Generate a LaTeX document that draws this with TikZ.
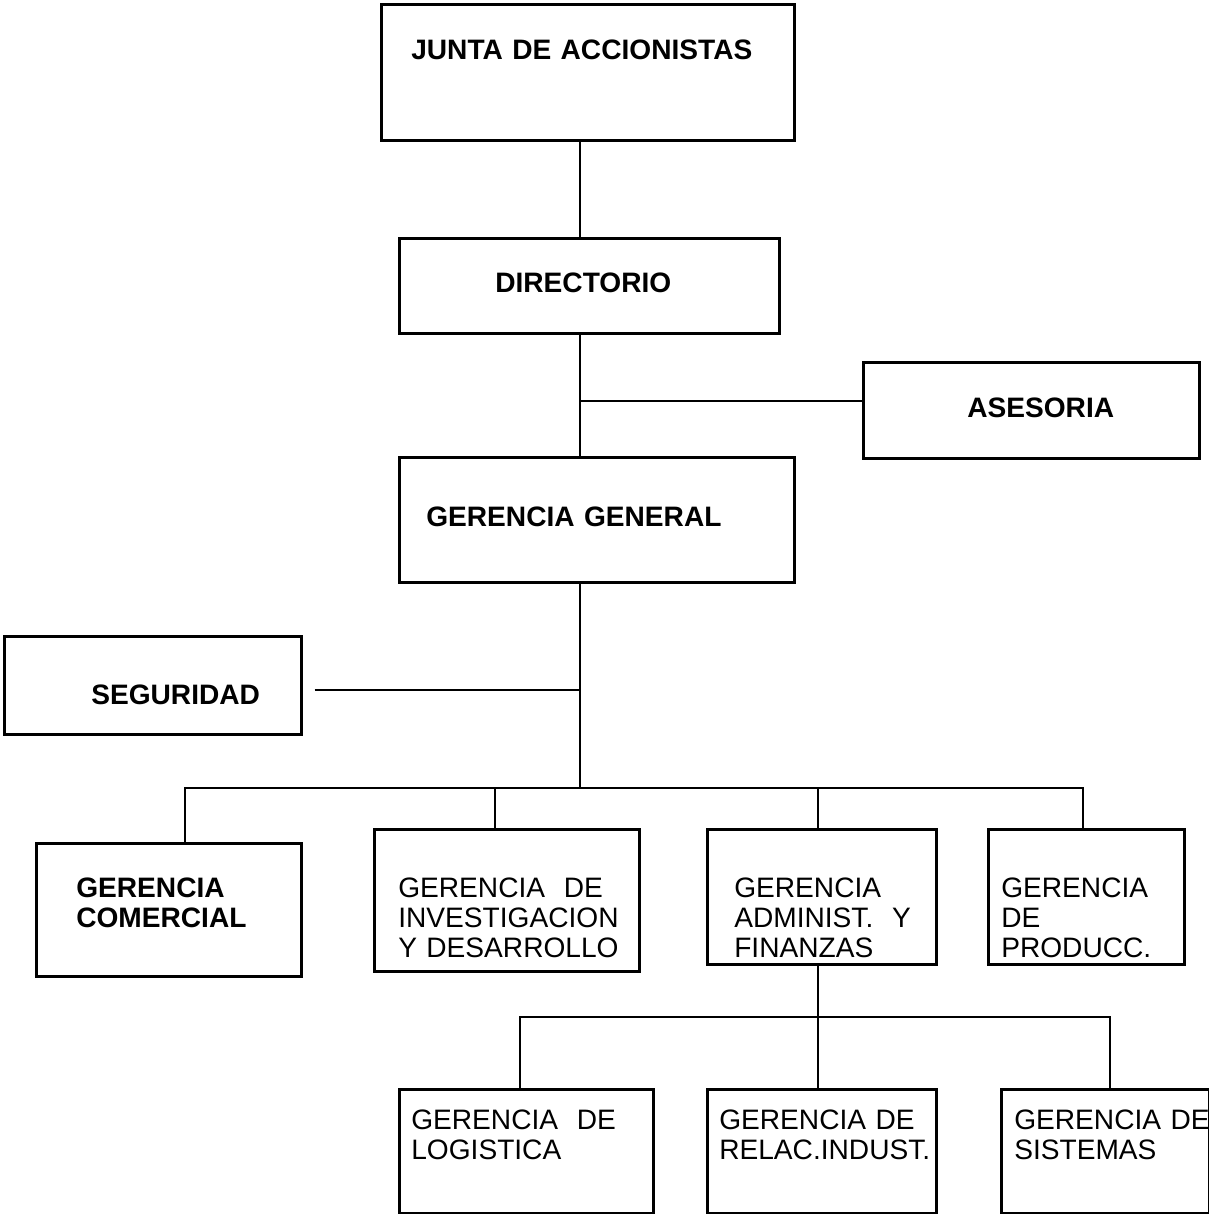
\documentclass[tikz,border=0pt]{standalone}
\usepackage{fontspec}
\setmainfont{Liberation Sans}
\newcommand{\orgfont}{\fontsize{16}{17}\selectfont\hyphenpenalty=10000\exhyphenpenalty=10000}

\begin{document}
\begin{tikzpicture}[x=0.02cm,y=-0.02cm,
    box/.style={draw,line width=1.5pt,anchor=north west,inner ysep=0pt,
                align=left,font=\orgfont},
    headbox/.style={box,font=\orgfont\bfseries},
    link/.style={line width=1.6pt}
  ]
    \useasboundingbox (0,0) rectangle (1208,1214);

    % upper levels
    \node[headbox,inner xsep=0.6cm,text width=7.06cm,text height=1.1cm,text depth=1.62cm]
      (junta) at (380,3) {JUNTA~DE~ACCIONISTAS};
    \node[headbox,inner xsep=1.92cm,text width=3.76cm,text height=1.08cm,text depth=0.82cm]
      (direc) at (398,237) {DIRECTORIO};
    \node[headbox,inner xsep=2.08cm,text width=2.56cm,text height=1.1cm,text depth=0.82cm]
      (ases) at (862,361) {ASESORIA};
    \node[headbox,inner xsep=0.54cm,text width=6.82cm,text height=1.38cm,text depth=1.12cm]
      (gg) at (398,456) {GERENCIA~GENERAL};
    \node[headbox,inner xsep=1.74cm,text width=2.46cm,text height=1.36cm,text depth=0.6cm]
      (seg) at (3,635) {SEGURIDAD};

    % gerencias
    \node[headbox,inner xsep=0.8cm,text width=3.7cm,text height=1.08cm,text depth=1.58cm]
      (com) at (35,842) {GERENCIA\\COMERCIAL};
    \node[box,inner xsep=0.48cm,text width=4.34cm,text height=1.36cm,text depth=1.48cm]
      (inv) at (373,828) {GERENCIA~~DE\\INVESTIGACION\\Y~DESARROLLO};
    \node[box,inner xsep=0.54cm,text width=3.5cm,text height=1.36cm,text depth=1.34cm]
      (adm) at (706,828) {GERENCIA\\ADMINIST.~~Y\\FINANZAS};
    \node[box,inner xsep=0.26cm,text width=3.4cm,text height=1.36cm,text depth=1.34cm]
      (prod) at (987,828) {GERENCIA\\DE\\PRODUCC.};

    % bajo administracion y finanzas
    \node[box,inner xsep=0.24cm,text width=4.6cm,text height=0.8cm,text depth=1.68cm]
      (log) at (398,1088) {GERENCIA~~DE\\LOGISTICA};
    \node[box,inner xsep=0.24cm,text width=4.1cm,text height=0.8cm,text depth=1.68cm]
      (rel) at (706,1088) {GERENCIA~DE\\RELAC.INDUST.};
    \node[box,inner xsep=0.26cm,text width=3.64cm,text height=0.8cm,text depth=1.68cm]
      (sis) at (1000,1088) {GERENCIA~DE\\SISTEMAS};

    % junctions
    \coordinate (jase) at (580,401);
    \coordinate (jseg) at (580,690);
    \coordinate (bus) at (580,788);
    \coordinate (dcom) at (185,788);
    \coordinate (dinv) at (495,788);
    \coordinate (dadm) at (818,788);
    \coordinate (dprod) at (1083,788);
    \coordinate (sub) at (818,1017);
    \coordinate (dlog) at (520,1017);
    \coordinate (dsis) at (1110,1017);

    \draw[link] (junta.south -| bus) -- (direc.north -| bus);
    \draw[link] (direc.south -| bus) -- (gg.north -| bus);
    \draw[link] (jase) -- (ases.west |- jase);
    \draw[link] (gg.south -| bus) -- (bus);
    \draw[link,shorten <=0.24cm] (seg.east |- jseg) -- (jseg);

    \draw[link] (dcom |- com.north) -- (dcom) -- (dprod) -- (dprod |- prod.north);
    \foreach \d/\n in {dinv/inv,dadm/adm}
      \draw[link] (\d) -- (\d |- \n.north);

    \draw[link] (adm.south -| sub) -- (sub);
    \draw[link] (dlog |- log.north) -- (dlog) -- (dsis) -- (dsis |- sis.north);
    \draw[link] (sub) -- (sub |- rel.north);
\end{tikzpicture}
\end{document}
